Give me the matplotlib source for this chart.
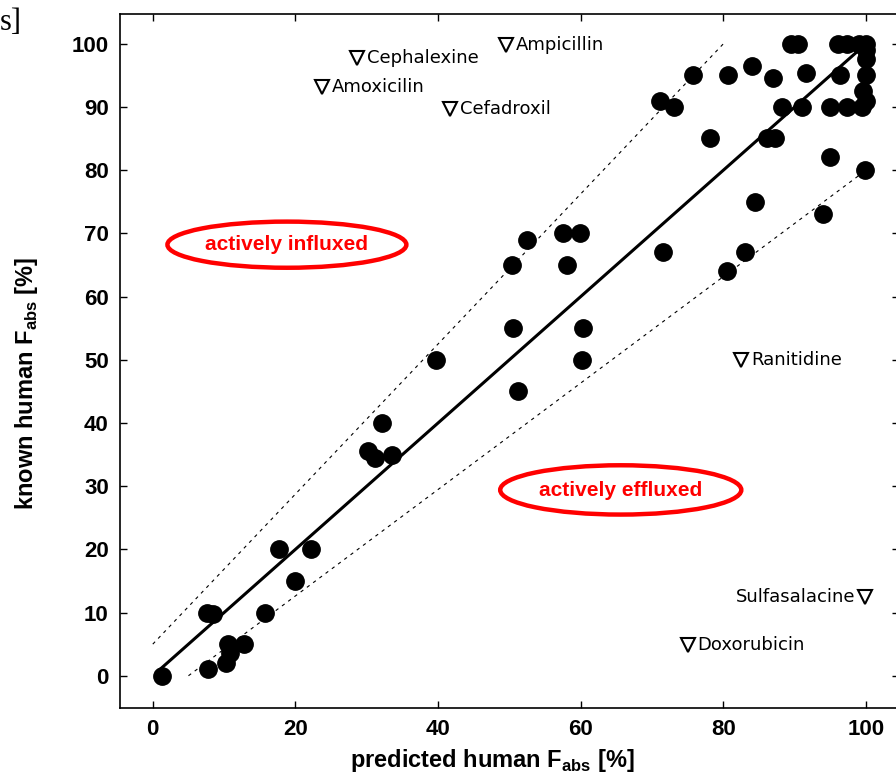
import matplotlib
matplotlib.use("Agg")
import matplotlib.pyplot as plt
from matplotlib.patches import Ellipse

plt.rcParams["font.family"] = "Liberation Sans"
plt.rcParams["mathtext.fontset"] = "custom"
plt.rcParams["mathtext.bf"] = "Liberation Sans:bold"
plt.rcParams["mathtext.rm"] = "Liberation Sans"

# compounds inside the prediction band
pred = [1.3, 7.7, 7.6, 8.4, 10.2, 10.8, 10.5, 12.8, 15.8, 17.7, 20.0, 22.2,
        30.2, 31.1, 32.1, 33.5, 39.7, 50.4, 50.5, 51.2, 52.4, 57.5, 58.1, 59.9,
        60.2, 60.3, 71.1, 71.5, 73.0, 75.7, 78.1, 80.5, 80.6, 83.0, 84.0, 84.4,
        86.1, 87.0, 87.2, 88.2, 89.4, 90.5, 91.0, 91.5, 94.0, 95.0, 95.0, 96.0,
        96.4, 97.3, 97.3, 99.0, 99.4, 99.9, 100.0, 100.0, 100.0, 100.0, 99.6, 100.0]
known = [0, 1, 10, 9.8, 2, 3.6, 5, 5, 10, 20, 15, 20,
         35.6, 34.5, 40, 35, 50, 65, 55, 45, 69, 70, 65, 70,
         50, 55, 91, 67, 90, 95, 85, 64, 95, 67, 96.5, 75,
         85, 94.6, 85, 90, 100, 100, 90, 95.4, 73, 82, 90, 100,
         95, 100, 90, 100, 90, 80, 100, 99, 97.5, 95, 92.5, 91]

# outliers (actively transported)
out_names = ["Amoxicilin", "Cephalexine", "Cefadroxil", "Ampicillin",
             "Doxorubicin", "Ranitidine", "Sulfasalacine"]
out_pred = [23.7, 28.6, 41.7, 49.5, 75.0, 82.5, 99.9]
out_known = [93.1, 97.7, 89.7, 99.8, 4.9, 50.0, 12.5]

fig = plt.figure(figsize=(8.96, 7.81), dpi=100)
ax = fig.add_axes([0.1339, 0.0935, 0.8694, 0.8886])

ax.plot([1, 98.5], [1, 98.5], color="black", lw=2.2)
ax.plot([0, 80], [5, 100], color="black", lw=0.8, ls=(0, (3, 4)))
ax.plot([5, 100], [0, 80], color="black", lw=0.8, ls=(0, (3, 4)))

ax.plot(pred, known, "o", color="black", ms=12.5, ls="none")
ax.plot(out_pred, out_known, "v", mfc="white", mec="black", mew=1.5, ms=10, ls="none")

for name, xv, yv in zip(out_names, out_pred, out_known):
    if name == "Sulfasalacine":
        ax.annotate(name, (xv, yv), xytext=(-7, 0), textcoords="offset points",
                    ha="right", va="center", fontsize=13, family="DejaVu Sans")
    else:
        ax.annotate(name, (xv, yv), xytext=(7, 0), textcoords="offset points",
                    ha="left", va="center", fontsize=13, family="DejaVu Sans")

ax.add_patch(Ellipse((18.8, 68.2), 33.5, 7.3, fill=False, ec="red", lw=3.2))
ax.text(18.8, 68.2, "actively influxed", color="red", fontsize=15,
        fontweight="bold", ha="center", va="center")
ax.add_patch(Ellipse((65.6, 29.4), 33.8, 7.8, fill=False, ec="red", lw=3.2))
ax.text(65.6, 29.3, "actively effluxed", color="red", fontsize=15,
        fontweight="bold", ha="center", va="center")

ax.set_xlim(-4.6, 104.6)
ax.set_ylim(-5.1, 104.7)
ax.set_xticks([0, 20, 40, 60, 80, 100])
ax.set_yticks(range(0, 101, 10))
ax.tick_params(direction="in", top=True, right=True, length=5, width=1,
               labelsize=16, pad=8)
for lab in ax.get_xticklabels() + ax.get_yticklabels():
    lab.set_fontweight("bold")
for sp in ax.spines.values():
    sp.set_linewidth(1.2)

ax.set_xlabel(r"predicted human F$_{\mathbf{abs}}$ [%]", fontsize=17, fontweight="bold")
ax.set_ylabel(r"known human F$_{\mathbf{abs}}$ [%]", fontsize=17, fontweight="bold")
ax.xaxis.set_label_coords(0.4775, -0.056)
ax.yaxis.set_label_coords(-0.103, 0.468)

fig.text(0.0, 0.99, "s]", family="Liberation Serif", fontsize=22, va="top", ha="left")

fig.savefig("out.png", dpi=100)
